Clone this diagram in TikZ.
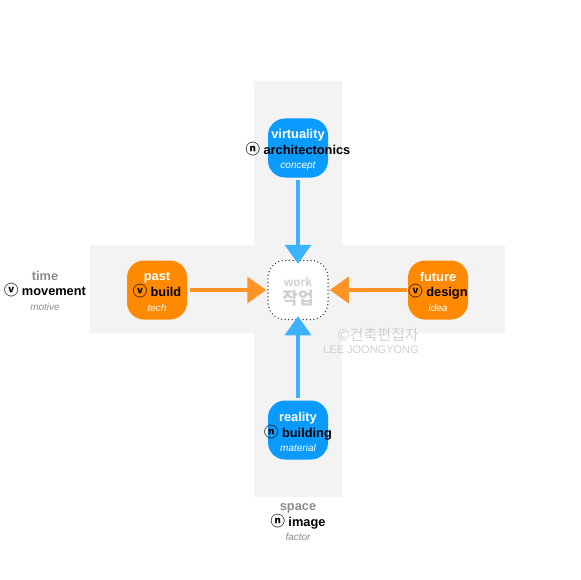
\documentclass[tikz,border=0pt]{standalone}
\usepackage{fontspec}
\setmainfont{Liberation Sans}
\newfontfamily\krfont{Noto Sans CJK KR}
\usetikzlibrary{arrows.meta}
\definecolor{boxblue}{HTML}{0B9BFF}
\definecolor{boxorange}{HTML}{FF8A00}
\definecolor{arrblue}{HTML}{3DB3FF}
\definecolor{arrorange}{HTML}{FF9426}
\definecolor{bandgray}{HTML}{F3F3F3}
\definecolor{softgray}{HTML}{8C8C8C}
\definecolor{markgray}{HTML}{D0D0D0}
\newcommand{\nn}{{\krfont\scalebox{1.12}{ⓝ}}}
\newcommand{\vv}{{\krfont\scalebox{1.12}{ⓥ}}}
\begin{document}
\begin{tikzpicture}[x=1pt, y=-1pt,
  tile/.style={rounded corners=17pt, minimum width=60pt, minimum height=59pt, inner sep=0pt},
  tiletext/.style={align=center, font=\fontsize{12.8}{14.6}\selectfont\bfseries, text=white, yshift=-2pt},
  axislabel/.style={align=center, font=\fontsize{12.8}{14.6}\selectfont\bfseries},
  blueflow/.style={arrblue, line width=3.5pt, -{Triangle[length=19pt, width=26pt]}},
  orangeflow/.style={arrorange, line width=3.5pt, -{Triangle[length=19pt, width=26pt]}}]
\useasboundingbox (0,0) rectangle (580,580);
% bands
\fill[bandgray] (254,81) rectangle (342,497);
\fill[bandgray] (90,245) rectangle (505,333);
% tiles
\node[tile, fill=boxblue] (virt) at (298,148) {};
\node[tile, fill=boxblue] (real) at (298,430) {};
\node[tile, fill=boxorange] (past) at (157,290) {};
\node[tile, fill=boxorange] (future) at (438,290) {};
\node[tile, fill=white, draw=black!75, line width=1.5pt, line cap=round, dash pattern=on 0pt off 3.6pt] (work) at (298,290) {};
\node[tiletext] (virttext) at (virt.center) {virtuality\\{\color{black}\nn\ architectonics}\\{\mdseries\itshape\fontsize{10}{11}\selectfont concept}};
\node[tiletext] (realtext) at (real.center) {reality\\{\color{black}\nn\ building}\\{\mdseries\itshape\fontsize{10}{11}\selectfont material}};
\node[tiletext] (pasttext) at (past.center) {past\\{\color{black}\vv\ build}\\{\mdseries\itshape\fontsize{10}{11}\selectfont tech}};
\node[tiletext] (futuretext) at (future.center) {future\\{\color{black}\vv\ design}\\{\mdseries\itshape\fontsize{10}{11}\selectfont idea}};
\node[text=markgray, font=\fontsize{12}{14}\selectfont\bfseries] (worktext) at (298,282) {work};
\node[text=markgray, font=\fontsize{17}{18}\selectfont\krfont\bfseries] (workkr) at (298,298) {작업};
% axis labels
\node[axislabel] (time) at (45,291) {{\color{softgray}time}\\\vv\ movement\\{\mdseries\itshape\fontsize{10}{11}\selectfont\color{softgray}motive}};
\node[axislabel] (space) at (298,522) {{\color{softgray}space}\\\nn\ image\\{\mdseries\itshape\fontsize{10}{11}\selectfont\color{softgray}factor}};
% watermark
\node[text=markgray, font=\fontsize{15}{17}\selectfont\krfont] (mark) at (378,335) {©건축편집자};
\node[text=markgray, font=\fontsize{11}{13}\selectfont] (markname) at (371,350) {LEE JOONGYONG};
% flows
\draw[blueflow] (virt.south) ++(0,2) -- ([yshift=-4pt]work.north);
\draw[blueflow] (real.north) ++(0,-2) -- ([yshift=4pt]work.south);
\draw[orangeflow] (past.east) ++(3,0) -- ([xshift=-1pt]work.west);
\draw[orangeflow] (future.west) ++(-1,0) -- ([xshift=1pt]work.east);
\end{tikzpicture}
\end{document}
